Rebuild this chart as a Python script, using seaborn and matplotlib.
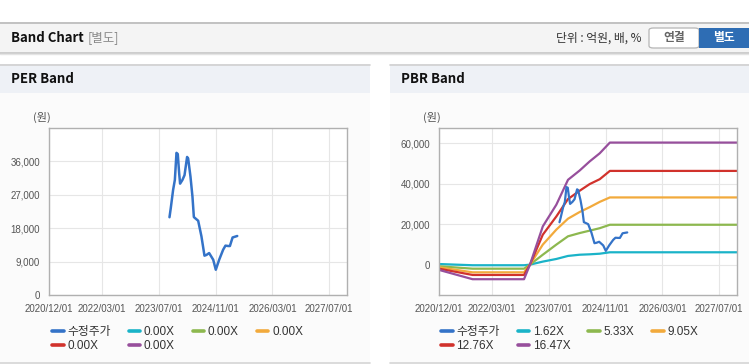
import matplotlib
matplotlib.use("Agg")
import matplotlib.pyplot as plt
import matplotlib.ticker as mticker
import seaborn as sns
import pandas as pd
from matplotlib.patches import Rectangle, FancyBboxPatch
from matplotlib.lines import Line2D

# ---- data ----
price_dates = ["2023-09-30", "2023-10-11", "2023-10-31", "2023-11-15", "2023-11-29",
               "2023-12-10", "2023-12-22", "2023-12-30", "2024-01-19", "2024-02-06",
               "2024-02-28", "2024-03-08", "2024-03-28", "2024-04-14", "2024-04-26",
               "2024-06-02", "2024-06-30", "2024-07-26", "2024-08-12", "2024-09-04",
               "2024-10-09", "2024-10-31", "2024-11-29", "2025-01-02", "2025-01-22",
               "2025-02-14", "2025-03-01", "2025-03-24", "2025-05-03"]
price = [20950, 23400, 28300, 31000, 38300, 38000, 32800, 30000, 31000, 32300,
         37200, 36800, 31900, 26500, 21000, 20000, 15800, 10600, 10800, 11300,
         9500, 6800, 9500, 12200, 13300, 13200, 13200, 15500, 15900]

band_dates = ["2020-12-01", "2021-09-15", "2022-11-30", "2023-01-20", "2023-05-10",
              "2023-09-03", "2023-12-12", "2024-03-21", "2024-06-15", "2024-09-09",
              "2024-12-05", "2027-11-30"]
pbr_labels = ["1.62X", "5.33X", "9.05X", "12.76X", "16.47X"]
pbr_162 = [300, -300, -300, 0, 1500, 2800, 4300, 4900, 5100, 5400, 6100, 6100]
pbr_533 = [-800, -2000, -2000, 0, 4900, 9900, 14000, 15600, 16800, 18000, 19700, 19700]
pbr_905 = [-1300, -3800, -3800, 0, 9900, 17300, 22700, 26000, 28400, 31000, 33200, 33200]
pbr_1276 = [-2000, -5100, -5100, 0, 14800, 23800, 32400, 36500, 39800, 42200, 46300, 46300]
pbr_1647 = [-2600, -7200, -7200, 0, 18900, 29600, 41900, 46500, 51000, 55000, 60300, 60300]
pbr_bands = [pbr_162, pbr_533, pbr_905, pbr_1276, pbr_1647]

per_labels = ["0.00X", "0.00X", "0.00X", "0.00X", "0.00X"]  # no PER band lines drawn

x_ticks = ["2020-12-01", "2022-03-01", "2023-07-01", "2024-11-01", "2026-03-01", "2027-07-01"]
x_range = ["2020-12-01", "2027-11-30"]

price_color = "#3473c8"
band_colors = ["#1ab3c8", "#8db84f", "#f2aa3c", "#d1322c", "#974f9c"]

# ---- style ----
sns.set_style("white")
plt.rcParams["font.family"] = ["Liberation Sans", "Noto Sans CJK KR", "DejaVu Sans"]
KR = ["Noto Sans CJK KR", "DejaVu Sans"]

W, H = 749, 364
fig = plt.figure(figsize=(W / 100, H / 100), dpi=100)
fig.patch.set_facecolor("white")


def fx(x):
    return x / W


def fy(y):
    return 1 - y / H


def rect(x0, y0, x1, y1, color, z=0):
    fig.add_artist(Rectangle((fx(x0), fy(y1)), fx(x1 - x0), (y1 - y0) / H,
                             transform=fig.transFigure, facecolor=color,
                             edgecolor="none", zorder=z))


def hline(x0, x1, y, color, lw=1.0):
    fig.add_artist(Line2D([fx(x0), fx(x1)], [fy(y), fy(y)], transform=fig.transFigure,
                          color=color, linewidth=lw, zorder=1))


# top header
rect(0, 22, W, 52, "#f4f4f4")
hline(0, W, 22.5, "#b8b8b8", 1.2)
hline(0, W, 52.5, "#c4c4c4", 1.2)
hline(0, W, 54, "#e4e4e4", 1.0)
fig.text(fx(11), fy(38), "Band Chart", family=KR, fontsize=9.5, fontweight="bold",
         color="#111111", va="center", ha="left")
fig.text(fx(88), fy(38), "[별도]", family=KR, fontsize=9, color="#8a8a8a",
         va="center", ha="left")
fig.text(fx(642), fy(38), "단위 : 억원, 배, %", family=KR, fontsize=8.5, color="#333333",
         va="center", ha="right")
fig.add_artist(FancyBboxPatch((fx(649), fy(48)), fx(50), 20 / H,
                              boxstyle="round,pad=0,rounding_size=0.006",
                              transform=fig.transFigure, facecolor="white",
                              edgecolor="#b5b5b5", linewidth=0.9, zorder=2))
rect(699, 28, W, 48, "#2e6db4", z=3)
fig.text(fx(674), fy(38), "연결", family=KR, fontsize=8.5, fontweight="bold",
         color="#666666", va="center", ha="center", zorder=4)
fig.text(fx(724), fy(38), "별도", family=KR, fontsize=8.5, fontweight="bold",
         color="white", va="center", ha="center", zorder=4)

# panels
for (px0, px1, title) in [(0, 370, "PER Band"), (390, W, "PBR Band")]:
    rect(px0, 64, px1, 93, "#eef1f6")
    rect(px0, 93, px1, 362, "#fbfbfb")
    hline(px0, px1, 64.5, "#d0d0d0", 1.2)
    hline(px0, px1, 362.5, "#d4d4d4", 1.2)
    fig.text(fx(px0 + 11), fy(79), title, family=KR, fontsize=9.5, fontweight="bold",
             color="#111111", va="center", ha="left")

price_df = pd.DataFrame({"date": pd.to_datetime(price_dates), "value": price})
bdates = pd.to_datetime(band_dates)


def setup_axis(ax, yticks, ylim):
    ax.set_facecolor("white")
    ax.set_xlim(pd.to_datetime(x_range[0]), pd.to_datetime(x_range[1]))
    ax.set_ylim(*ylim)
    ax.set_yticks(yticks)
    ax.yaxis.set_major_formatter(mticker.FuncFormatter(lambda v, p: f"{int(v):,}"))
    ticks = pd.to_datetime(x_ticks)
    ax.set_xticks(ticks)
    ax.set_xticklabels([t.strftime("%Y/%m/%d") for t in ticks])
    ax.grid(True, color="#e6e6e6", linewidth=0.8)
    ax.set_axisbelow(True)
    for s in ax.spines.values():
        s.set_color("#b0b0b0")
        s.set_linewidth(1.0)
    ax.tick_params(axis="both", labelsize=7, colors="#b0b0b0", labelcolor="#555555",
                   length=4, width=0.8, pad=2.5)
    ax.set_xlabel("")
    ax.set_ylabel("")


def add_legend(ax, x_left, labels):
    handles = [Line2D([], [], color=price_color, linewidth=2.6)]
    handles += [Line2D([], [], color=c, linewidth=2.6) for c in band_colors]
    names = ["수정주가"] + labels
    # row-major order: matplotlib fills columns first
    order = [0, 4, 1, 5, 2, 3]
    ax.legend([handles[i] for i in order], [names[i] for i in order], loc="upper left",
              bbox_to_anchor=(fx(x_left), fy(326)), bbox_transform=fig.transFigure,
              ncol=4, frameon=False, fontsize=8.5, handlelength=1.0, handletextpad=0.3,
              columnspacing=1.5, labelspacing=0.2, borderpad=0, borderaxespad=0,
              labelcolor="#333333")


# PER Band
ax1 = fig.add_axes([fx(49), fy(295), fx(298), 167 / H])
sns.lineplot(data=price_df, x="date", y="value", ax=ax1, color=price_color,
             linewidth=1.8, legend=False)
setup_axis(ax1, [0, 9000, 18000, 27000, 36000], (0, 45000))
add_legend(ax1, 52, per_labels)
fig.text(fx(33), fy(117), "(원)", family=KR, fontsize=8, color="#555555",
         va="center", ha="left")

# PBR Band
ax2 = fig.add_axes([fx(439), fy(295), fx(298), 167 / H])
for vals, col in zip(pbr_bands, band_colors):
    sns.lineplot(x=bdates, y=vals, ax=ax2, color=col, linewidth=1.6, legend=False)
sns.lineplot(data=price_df, x="date", y="value", ax=ax2, color=price_color,
             linewidth=1.6, legend=False)
setup_axis(ax2, [0, 20000, 40000, 60000], (-15000, 67500))
add_legend(ax2, 441, pbr_labels)
fig.text(fx(423), fy(117), "(원)", family=KR, fontsize=8, color="#555555",
         va="center", ha="left")

fig.savefig("out.png", dpi=100)
